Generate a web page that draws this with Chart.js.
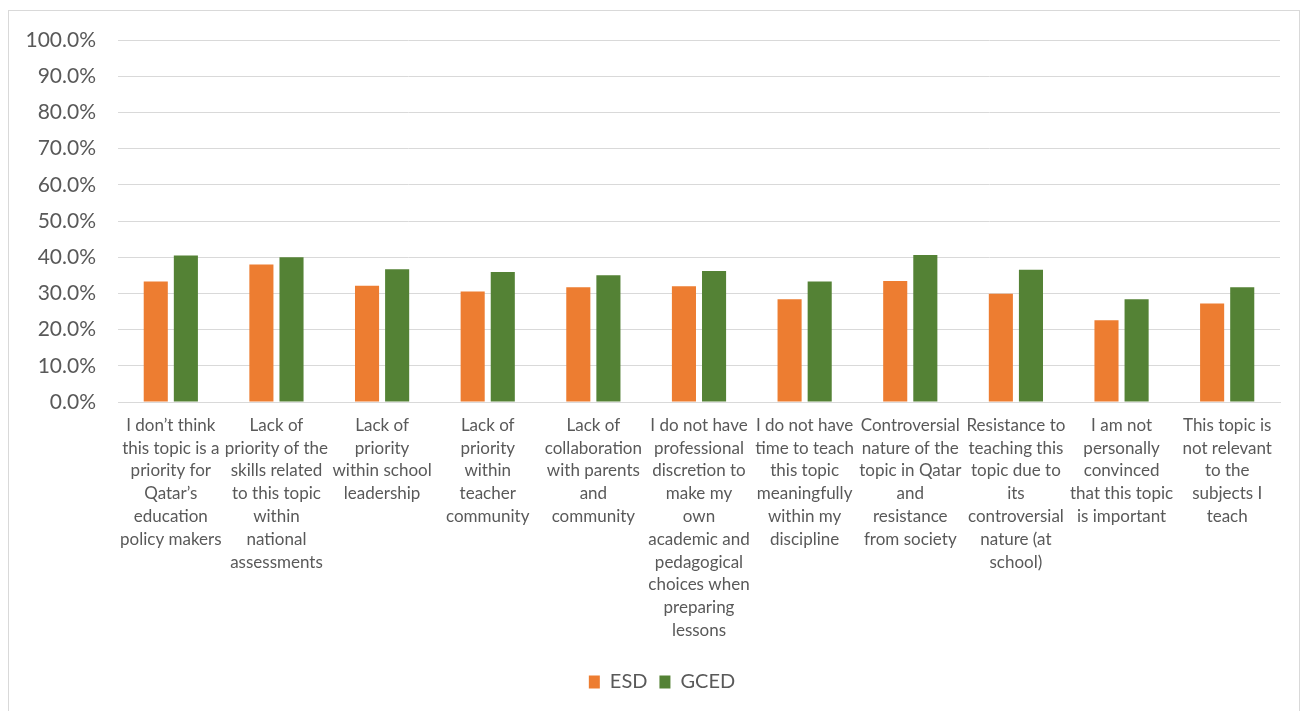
<!DOCTYPE html>
<html>
<head>
<meta charset="utf-8">
<script src="https://cdn.jsdelivr.net/npm/chart.js@4.4.0/dist/chart.umd.min.js"></script>
<style>
  html, body { margin: 0; padding: 0; background: #fff; overflow: hidden; }
  #frame { position: absolute; left: 8px; top: 10px; width: 1292px; height: 720px; border: 1px solid #d9d9d9; box-sizing: border-box; }
  #wrap { position: absolute; left: 0; top: 0; width: 1309px; height: 711px; }
</style>
</head>
<body>
<div id="frame"></div>
<div id="wrap"><canvas id="c" width="1309" height="711"></canvas></div>
<script>
const categories = [
  ["I don’t think", "this topic is a", "priority for", "Qatar’s", "education", "policy makers"],
  ["Lack of", "priority of the", "skills related", "to this topic", "within", "national", "assessments"],
  ["Lack of", "priority", "within school", "leadership"],
  ["Lack of", "priority", "within", "teacher", "community"],
  ["Lack of", "collaboration", "with parents", "and", "community"],
  ["I do not have", "professional", "discretion to", "make my", "own", "academic and", "pedagogical", "choices when", "preparing", "lessons"],
  ["I do not have", "time to teach", "this topic", "meaningfully", "within my", "discipline"],
  ["Controversial", "nature of the", "topic in Qatar", "and", "resistance", "from society"],
  ["Resistance to", "teaching this", "topic due to", "its", "controversial", "nature (at", "school)"],
  ["I am not", "personally", "convinced", "that this topic", "is important"],
  ["This topic is", "not relevant", "to the", "subjects I", "teach"]
];
const esdValues = [33.3, 38.0, 32.1, 30.5, 31.7, 32.0, 28.4, 33.4, 29.9, 22.6, 27.2];
const gcedValues = [40.5, 40.0, 36.7, 35.9, 35.0, 36.2, 33.3, 40.6, 36.5, 28.4, 31.7];
const seriesNames = ["ESD", "GCED"];
const yMin = 0, yMax = 100, yStep = 10;

const txt = '#595959';
const fontFam = 'Lato, "Open Sans", sans-serif';

const legendShift = {
  id: 'legendShift',
  afterLayout(chart) {
    const lg = chart.legend;
    if (lg) { lg.left += 22; lg.right += 22; }
  }
};

new Chart(document.getElementById('c'), {
  type: 'bar',
  data: {
    labels: categories,
    datasets: [
      { label: seriesNames[0], data: esdValues, backgroundColor: '#ED7D31', borderWidth: 0 },
      { label: seriesNames[1], data: gcedValues, backgroundColor: '#548235', borderWidth: 0 }
    ]
  },
  plugins: [legendShift],
  options: {
    responsive: false,
    animation: false,
    devicePixelRatio: 1,
    categoryPercentage: 0.57,
    barPercentage: 0.8,
    layout: { padding: { left: 0, right: 29, top: 40, bottom: 9 } },
    plugins: {
      legend: {
        position: 'bottom',
        labels: {
          color: txt,
          font: { family: fontFam, size: 20 },
          boxWidth: 11,
          boxHeight: 13,
          padding: 12
        }
      },
      tooltip: { enabled: false }
    },
    scales: {
      x: {
        grid: { display: false },
        border: { display: true, color: '#d9d9d9', width: 1 },
        ticks: {
          color: txt,
          autoSkip: false,
          maxRotation: 0,
          minRotation: 0,
          padding: 4,
          font: { family: fontFam, size: 17, lineHeight: 1.34 }
        },
        afterFit: (s) => { s.height = 258; }
      },
      y: {
        min: yMin,
        max: yMax,
        grid: { color: '#d9d9d9', lineWidth: 1, drawTicks: false },
        border: { display: false },
        ticks: {
          stepSize: yStep,
          color: txt,
          padding: 22,
          font: { family: fontFam, size: 21 },
          callback: (v) => v.toFixed(1) + '%'
        },
        afterFit: (s) => { s.width = 118; }
      }
    }
  }
});
</script>
</body>
</html>
